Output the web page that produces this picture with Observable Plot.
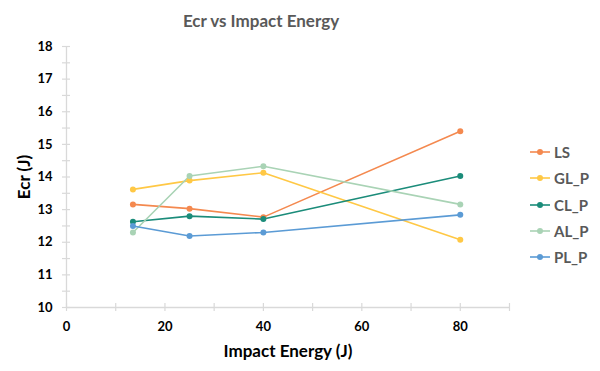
<!DOCTYPE html>
<html>
<head>
<meta charset="utf-8">
<script src="https://cdn.jsdelivr.net/npm/d3@7"></script>
<script src="https://cdn.jsdelivr.net/npm/@observablehq/plot@0.6"></script>
<style>
  html, body { margin: 0; padding: 0; background: #fff; }
  #wrap { position: relative; width: 600px; height: 371px; font-family: Lato, "Open Sans", sans-serif; }
  #title { position: absolute; left: 0; width: 522px; top: 10px; text-align: center; font-size: 17px; font-weight: bold; color: #595959; }
  #legend { position: absolute; left: 530px; top: 139px; }
  .item { display: flex; align-items: center; height: 26.3px; font-size: 15px; font-weight: bold; color: #595959; }
  .item svg { margin-right: 3px; }
</style>
</head>
<body>
<div id="wrap">
  <div id="title">Ecr vs Impact Energy</div>
  <div id="legend"></div>
</div>
<script>
const energies = [13.5, 25, 40, 80];
const seriesNames = ["LS", "GL_P", "CL_P", "AL_P", "PL_P"];
const LS   = [13.16, 13.03, 12.77, 15.40];
const GL_P = [13.62, 13.89, 14.13, 12.08];
const CL_P = [12.63, 12.80, 12.71, 14.03];
const AL_P = [12.30, 14.03, 14.33, 13.16];
const PL_P = [12.50, 12.19, 12.30, 12.84];
const colors = ["#F4894F", "#FFC845", "#1B8C7A", "#A9D3B5", "#5B9BD5"];
const xTicks = [0, 20, 40, 60, 80];
const yTicks = [10, 11, 12, 13, 14, 15, 16, 17, 18];

const valuesBySeries = {LS, GL_P, CL_P, AL_P, PL_P};
const data = seriesNames.flatMap(s => energies.map((e, i) => ({series: s, x: e, y: valuesBySeries[s][i]})));

const width = 600, height = 371;
const mL = 66, mR = 91, mT = 46, mB = 64;
const frameW = width - mL - mR, frameH = height - mT - mB;
const axisColor = "#D9D9D9";

const chart = Plot.plot({
  width, height,
  marginLeft: mL, marginRight: mR, marginTop: mT, marginBottom: mB,
  style: {fontFamily: "Lato, 'Open Sans', sans-serif", fontWeight: "bold", color: "#000", background: "#fff"},
  x: {domain: [0, 90], ticks: xTicks, label: "Impact Energy (J)"},
  y: {domain: [10, 18], ticks: yTicks, label: "Ecr (J)"},
  color: {domain: seriesNames, range: colors},
  marks: [
    Plot.ruleX([0], {stroke: axisColor, strokeWidth: 1.3}),
    Plot.ruleY([10], {stroke: axisColor, strokeWidth: 1.3}),
    Plot.tickY(d3.range(10, 18.01, 0.5), {y: d => d, stroke: axisColor, strokeWidth: 1.2, insetLeft: -4, insetRight: frameW - 4}),
    Plot.tickX(d3.range(0, 90.01, 10), {x: d => d, stroke: axisColor, strokeWidth: 1.2, insetTop: frameH - 4, insetBottom: -4}),
    Plot.axisX({ticks: xTicks, tickSize: 0, tickPadding: 14, fontSize: 13, fill: "#000",
      label: "Impact Energy (J)", labelAnchor: "center", labelOffset: 49, labelArrow: "none"}),
    Plot.axisY({ticks: yTicks, tickSize: 0, tickPadding: 14, fontSize: 13, fill: "#000",
      label: "Ecr (J)", labelAnchor: "center", labelOffset: 49, labelArrow: "none"}),
    Plot.line(data, {x: "x", y: "y", z: "series", stroke: "series", strokeWidth: 1.6}),
    Plot.dot(data, {x: "x", y: "y", fill: "series", r: 3})
  ]
});
// enlarge axis label fonts
chart.querySelectorAll("g[aria-label='x-axis label'] text, g[aria-label='y-axis label'] text").forEach(t => {
  t.setAttribute("font-size", "17");
  t.style.fontSize = "17px";
});
chart.style.position = "absolute";
chart.style.left = "0";
chart.style.top = "0";
document.getElementById("wrap").prepend(chart);

const legend = document.getElementById("legend");
seriesNames.forEach((s, i) => {
  const div = document.createElement("div");
  div.className = "item";
  div.innerHTML = `<svg width="21" height="8"><line x1="0" x2="20" y1="4" y2="4" stroke="${colors[i]}" stroke-width="1.6"/><circle cx="10" cy="4" r="3" fill="${colors[i]}"/></svg><span>${s}</span>`;
  legend.appendChild(div);
});
</script>
</body>
</html>
